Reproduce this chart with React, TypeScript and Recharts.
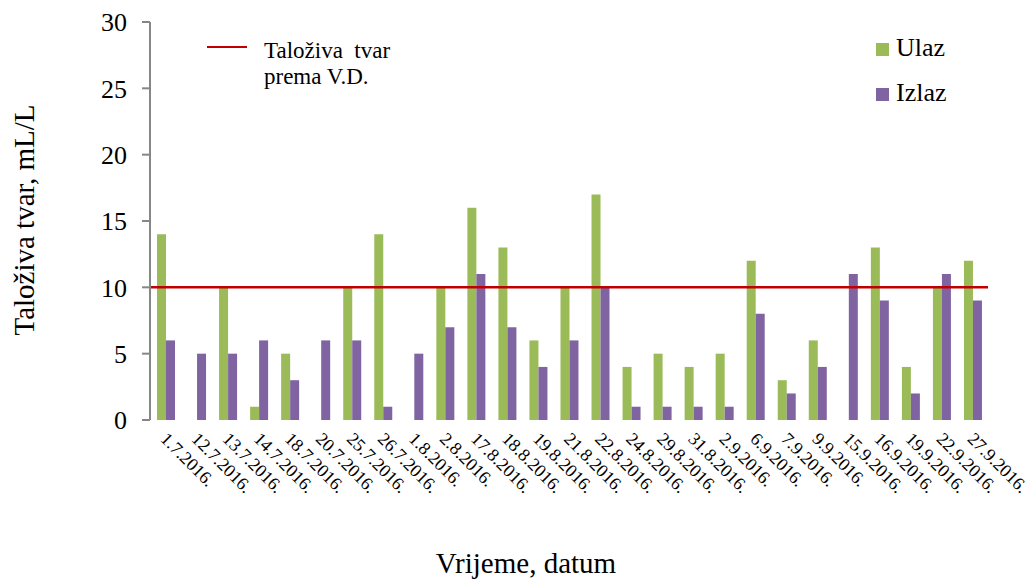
import { BarChart, Bar, XAxis, YAxis, ReferenceLine } from 'recharts';

const datumi = [
  '1.7.2016.', '12.7.2016.', '13.7.2016.', '14.7.2016.', '18.7.2016.', '20.7.2016.',
  '25.7.2016.', '26.7.2016.', '1.8.2016.', '2.8.2016.', '17.8.2016.', '18.8.2016.',
  '19.8.2016.', '21.8.2016.', '22.8.2016.', '24.8.2016.', '29.8.2016.', '31.8.2016.',
  '2.9.2016.', '6.9.2016.', '7.9.2016.', '9.9.2016.', '15.9.2016.', '16.9.2016.',
  '19.9.2016.', '22.9.2016.', '27.9.2016.',
];
const ulaz = [14, 0, 10, 1, 5, 0, 10, 14, 0, 10, 16, 13, 6, 10, 17, 4, 5, 4, 5, 12, 3, 6, 0, 13, 4, 10, 12];
const izlaz = [6, 5, 5, 6, 3, 6, 6, 1, 5, 7, 11, 7, 4, 6, 10, 1, 1, 1, 1, 8, 2, 4, 11, 9, 2, 11, 9];
const granica = 10; // Taloživa tvar prema V.D.
const yTicks = [0, 5, 10, 15, 20, 25, 30];
const granice = Array.from({ length: datumi.length + 1 }, (_, i) => i);

const podaci = datumi.map((d, i) => ({ datum: d, idx: i, Ulaz: ulaz[i], Izlaz: izlaz[i] }));

const FONT = '"Liberation Serif", "Times New Roman", serif';
const SIVA = '#868686';

const DatumTick = (props: any) => {
  const { x, y, payload } = props;
  const ax = x - 6;
  const ay = y + 12;
  return (
    <text
      x={ax}
      y={ay}
      transform={`rotate(45, ${ax}, ${ay})`}
      textAnchor="start"
      fontFamily={FONT}
      fontSize={18}
      fill="#000"
    >
      {payload.value}
    </text>
  );
};

const App = () => {
  return (
    <div style={{ position: 'absolute', left: 0, top: 0, width: 1033, height: 581, background: '#fff', fontFamily: FONT }}>
      <BarChart
        width={1033}
        height={581}
        data={podaci}
        margin={{ top: 22, right: 45, bottom: 0, left: 0 }}
        barSize={9}
        barGap={0}
      >
        <XAxis
          xAxisId="granice"
          type="number"
          dataKey="idx"
          domain={[0, datumi.length]}
          ticks={granice}
          interval={0}
          allowDataOverflow
          tick={false}
          tickSize={5}
          height={0}
          stroke={SIVA}
          strokeWidth={2}
        />
        <XAxis
          dataKey="datum"
          interval={0}
          axisLine={false}
          tickLine={false}
          height={161}
          tick={<DatumTick />}
          label={{
            content: () => (
              <text x={526} y={573} textAnchor="middle" fontFamily={FONT} fontSize={29} fill="#000">
                Vrijeme, datum
              </text>
            ),
          }}
        />
        <XAxis
          xAxisId="vrh"
          orientation="top"
          type="number"
          dataKey="idx"
          domain={[0, datumi.length]}
          allowDataOverflow
          tick={false}
          tickLine={false}
          height={0}
          stroke={SIVA}
          strokeWidth={2}
        />
        <YAxis
          width={150}
          domain={[0, 30]}
          ticks={yTicks}
          interval={0}
          tickSize={8}
          tickMargin={15}
          stroke={SIVA}
          strokeWidth={2}
          tick={{ fill: '#000', fontFamily: FONT, fontSize: 26 }}
          label={{
            content: () => (
              <text
                x={34}
                y={220}
                transform="rotate(-90, 34, 220)"
                textAnchor="middle"
                fontFamily={FONT}
                fontSize={29}
                fill="#000"
              >
                Taloživa tvar, mL/L
              </text>
            ),
          }}
        />
        <YAxis
          yAxisId="desno"
          orientation="right"
          width={0}
          domain={[0, 30]}
          tick={false}
          tickLine={false}
          stroke={SIVA}
          strokeWidth={2}
        />
        <Bar dataKey="Ulaz" fill="#9BBB59" isAnimationActive={false} />
        <Bar dataKey="Izlaz" fill="#8064A2" isAnimationActive={false} />
        <ReferenceLine y={granica} stroke="#C00000" strokeWidth={2.5} />
      </BarChart>

      <div style={{ position: 'absolute', left: 207, top: 46, width: 40, height: 2, background: '#C00000' }} />
      <div style={{ position: 'absolute', left: 264, top: 38, fontSize: 23, lineHeight: '26px', color: '#000', whiteSpace: 'pre' }}>
        {'Taloživa  tvar\nprema V.D.'}
      </div>

      <div style={{ position: 'absolute', left: 876, top: 43, width: 13, height: 13, background: '#9BBB59' }} />
      <div style={{ position: 'absolute', left: 896, top: 33, fontSize: 26, lineHeight: '30px', color: '#000' }}>Ulaz</div>
      <div style={{ position: 'absolute', left: 876, top: 88, width: 13, height: 13, background: '#8064A2' }} />
      <div style={{ position: 'absolute', left: 896, top: 78, fontSize: 26, lineHeight: '30px', color: '#000' }}>Izlaz</div>
    </div>
  );
};

export default App;
